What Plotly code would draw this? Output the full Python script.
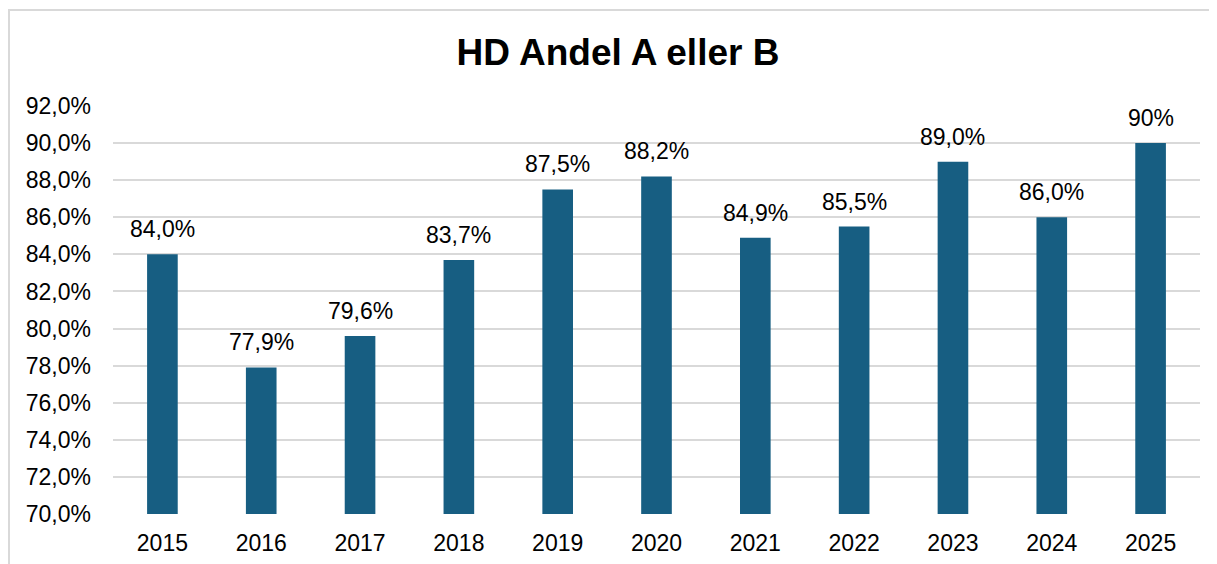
import plotly.graph_objects as go

years = ["2015", "2016", "2017", "2018", "2019", "2020", "2021", "2022", "2023", "2024", "2025"]
values = [84.0, 77.9, 79.6, 83.7, 87.5, 88.2, 84.9, 85.5, 89.0, 86.0, 90.0]
labels = ["84,0%", "77,9%", "79,6%", "83,7%", "87,5%", "88,2%", "84,9%", "85,5%", "89,0%", "86,0%", "90%"]
tick_vals = [70, 72, 74, 76, 78, 80, 82, 84, 86, 88, 90, 92]
tick_text = ["70,0%", "72,0%", "74,0%", "76,0%", "78,0%", "80,0%", "82,0%", "84,0%", "86,0%", "88,0%", "90,0%", "92,0%"]

FONT = "Arial, 'Liberation Sans', sans-serif"
BAR = "#175e82"
GRID = "#d9d9d9"
FS = 23

fig = go.Figure(go.Bar(x=years, y=values, marker=dict(color=BAR, line=dict(width=0)),
                       hoverinfo="skip"))

for i, (v, t) in enumerate(zip(values, labels)):
    fig.add_annotation(x=i, y=v, xref="x", yref="y", text=t, showarrow=False, yanchor="bottom",
                       yshift=10, font=dict(family=FONT, size=FS, color="#000000"))

W, H = 1217, 564
OFF = 8  # page body margin
L, T = 113 - OFF, 106 - OFF
R = W - (1200 - OFF)
B = H - (514 - OFF)
pw = W - L - R
ph = H - T - B

fig.add_shape(type="rect", xref="paper", yref="paper",
              x0=(1 - L) / pw, x1=(W + 20 - L) / pw,
              y0=(H - B - (H + 20)) / ph, y1=(H - B - (10 - OFF)) / ph,
              line=dict(color=GRID, width=2), fillcolor="rgba(0,0,0,0)", layer="below")

fig.update_layout(
    width=W, height=H,
    margin=dict(l=L, r=R, t=T, b=B, autoexpand=False),
    paper_bgcolor="white", plot_bgcolor="white",
    bargap=0.69,
    showlegend=False,
    font=dict(family=FONT, size=FS, color="#000000"),
    title=dict(text="<b>HD Andel A eller B</b>", x=(618 - OFF - L) / pw, xref="paper", xanchor="center",
               y=1 - (52 - OFF) / H, yref="container", yanchor="middle",
               font=dict(family=FONT, size=37, color="#000000")),
    xaxis=dict(type="category", categoryorder="array", categoryarray=years,
               range=[-0.5, len(years) - 0.5],
               showgrid=False, showline=False, ticks="", ticklabelstandoff=13,
               tickfont=dict(family=FONT, size=FS, color="#000000")),
    yaxis=dict(range=[70, 92], tickvals=tick_vals, ticktext=tick_text,
               showgrid=True, gridcolor=GRID, gridwidth=1.5, zeroline=False, showline=False,
               ticks="", ticklabelstandoff=21,
               tickfont=dict(family=FONT, size=FS, color="#000000")),
)

fig.write_html("out.html")
